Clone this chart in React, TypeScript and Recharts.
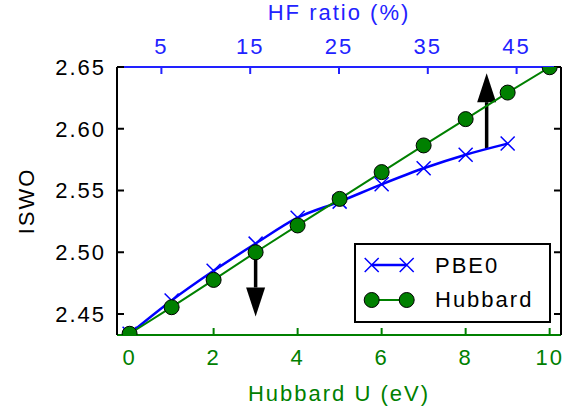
import { LineChart, Line, XAxis, YAxis, Legend, ReferenceLine } from 'recharts';

const hubbardU = [0, 1, 2, 3, 4, 5, 6, 7, 8, 9, 10];
const pbe0Iswo = [2.434, 2.461, 2.485, 2.507, 2.528, 2.541, 2.555, 2.568, 2.579, 2.588, null];
const hubbardIswo = [2.434, 2.4555, 2.4776, 2.5, 2.5217, 2.5432, 2.5649, 2.5865, 2.6078, 2.6293, 2.6498];
const uTicks = [0, 2, 4, 6, 8, 10];
const hfTicks = [5, 15, 25, 35, 45];
const iswoTicks = [2.45, 2.5, 2.55, 2.6, 2.65];
// arrows: x position (U), start and tip in ISWO
const arrows = [
  { u: 3, from: 2.5, to: 2.448 },
  { u: 8.5, from: 2.584, to: 2.645 },
];

const data = hubbardU.map((u, i) => ({ u, pbe0: pbe0Iswo[i], hubbard: hubbardIswo[i] }));

const BLUE = '#0000ff';
const AXIS_BLUE = '#2222ff';
const GREEN = '#008000';
const FONT = '"Liberation Sans", Arial, sans-serif';

const Cross = (p: any) => {
  const { cx, cy } = p;
  if (cx == null || cy == null) return <g key={p.key} />;
  const s = 7;
  return (
    <path
      key={p.key}
      d={`M${cx - s},${cy - s}L${cx + s},${cy + s}M${cx - s},${cy + s}L${cx + s},${cy - s}`}
      stroke={BLUE}
      strokeWidth={1.5}
      fill="none"
    />
  );
};

const Ball = (p: any) => {
  const { cx, cy } = p;
  if (cx == null || cy == null) return <g key={p.key} />;
  return <circle key={p.key} cx={cx} cy={cy} r={7.5} fill={GREEN} stroke="#000" strokeWidth={1} />;
};

const ArrowShape = (p: any) => {
  const { x1, y1, x2, y2 } = p;
  const len = Math.hypot(x2 - x1, y2 - y1) || 1;
  const ux = (x2 - x1) / len;
  const uy = (y2 - y1) / len;
  const bx = x2 - ux * 29;
  const by = y2 - uy * 29;
  const px = -uy * 9.5;
  const py = ux * 9.5;
  return (
    <g>
      <line x1={x1} y1={y1} x2={bx} y2={by} stroke="#000" strokeWidth={3.5} />
      <polygon points={`${x2},${y2} ${bx + px},${by + py} ${bx - px},${by - py}`} fill="#000" />
    </g>
  );
};

const LegendBox = () => (
  <svg width={197} height={80} style={{ display: 'block' }}>
    <rect x={1} y={1} width={195} height={78} fill="#fff" stroke="#000" strokeWidth={2} />
    <line x1={17.7} y1={22} x2={52.7} y2={22} stroke={BLUE} strokeWidth={2.5} />
    <Cross cx={17.7} cy={22} />
    <Cross cx={52.7} cy={22} />
    <text x={81} y={29.7} fontSize={22} fill="#000">PBE0</text>
    <line x1={17.7} y1={57} x2={52.7} y2={57} stroke={GREEN} strokeWidth={2} />
    <Ball cx={17.7} cy={57} />
    <Ball cx={52.7} cy={57} />
    <text x={81} y={63.7} fontSize={22} fill="#000">Hubbard</text>
  </svg>
);

export default function App() {
  return (
    <div style={{ position: 'absolute', left: 0, top: 0, fontFamily: FONT, fontSize: 22, letterSpacing: 2 }}>
      <LineChart width={570} height={409} data={data} margin={{ top: 0, right: 0, bottom: 0, left: 0 }}>
        <XAxis
          xAxisId="bottom"
          dataKey="u"
          type="number"
          domain={[-0.3, 10.27]}
          ticks={uTicks}
          interval={0}
          allowDataOverflow
          height={74}
          stroke={GREEN}
          axisLine={{ strokeWidth: 2 }}
          tickLine={{ strokeWidth: 2 }}
          tickSize={-7}
          tickMargin={21}
          tick={{ fill: GREEN, fontSize: 22 }}
          label={{ value: 'Hubbard U (eV)', position: 'insideBottom', offset: 8, fill: GREEN, fontSize: 22 }}
        />
        <XAxis
          xAxisId="top"
          dataKey="u"
          orientation="top"
          type="number"
          domain={[0, 50]}
          ticks={hfTicks}
          interval={0}
          allowDataOverflow
          height={67}
          stroke={AXIS_BLUE}
          axisLine={{ strokeWidth: 2 }}
          tickLine={{ strokeWidth: 2 }}
          tickSize={-7}
          tickMargin={20}
          tick={{ fill: AXIS_BLUE, fontSize: 22 }}
          label={{ value: 'HF ratio (%)', position: 'insideTop', offset: 4, fill: AXIS_BLUE, fontSize: 22 }}
        />
        <YAxis
          yAxisId="left"
          type="number"
          domain={[2.433, 2.65]}
          ticks={iswoTicks}
          interval={0}
          allowDataOverflow
          width={117}
          stroke="#000"
          axisLine={{ strokeWidth: 2 }}
          tickLine={{ strokeWidth: 2 }}
          tickSize={-7}
          tickMargin={18}
          tickFormatter={(v: number) => v.toFixed(2)}
          tick={{ fill: '#000', fontSize: 22 }}
          label={{
            value: 'ISWO',
            angle: -90,
            position: 'insideLeft',
            offset: 26,
            fill: '#000',
            fontSize: 22,
            style: { textAnchor: 'middle' },
          }}
        />
        <YAxis
          yAxisId="right"
          orientation="right"
          type="number"
          domain={[2.433, 2.65]}
          ticks={iswoTicks}
          interval={0}
          allowDataOverflow
          width={9}
          stroke="#000"
          axisLine={{ strokeWidth: 2 }}
          tickLine={{ strokeWidth: 2 }}
          tickSize={-7}
          tickFormatter={() => ''}
        />
        {arrows.map((a) => (
          <ReferenceLine
            key={a.u}
            xAxisId="bottom"
            yAxisId="left"
            segment={[
              { x: a.u, y: a.from },
              { x: a.u, y: a.to },
            ]}
            shape={ArrowShape}
          />
        ))}
        <Line
          xAxisId="bottom"
          yAxisId="left"
          type="monotone"
          dataKey="pbe0"
          stroke={BLUE}
          strokeWidth={2.5}
          dot={Cross}
          activeDot={false}
          isAnimationActive={false}
        />
        <Line
          xAxisId="bottom"
          yAxisId="left"
          type="linear"
          dataKey="hubbard"
          stroke={GREEN}
          strokeWidth={2}
          dot={Ball}
          activeDot={false}
          isAnimationActive={false}
        />
        <Legend
          layout="vertical"
          align="center"
          verticalAlign="middle"
          wrapperStyle={{ left: 354, top: 243, width: 197, height: 80 }}
          content={() => <LegendBox />}
        />
      </LineChart>
    </div>
  );
}
